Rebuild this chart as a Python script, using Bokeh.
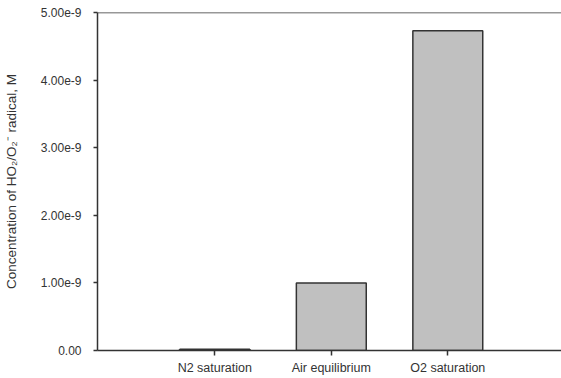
from bokeh.plotting import figure
from bokeh.models import FixedTicker, Range1d, Span, ColumnDataSource
from bokeh.embed import file_html
from bokeh.resources import INLINE

categories = ["N2 saturation", "Air equilibrium", "O2 saturation"]
values = [2.0e-11, 1.00e-9, 4.73e-9]
y_ticks = [0.0, 1e-9, 2e-9, 3e-9, 4e-9, 5e-9]
y_tick_labels = ["0.00", "1.00e-9", "2.00e-9", "3.00e-9", "4.00e-9", "5.00e-9"]

xpos = list(range(len(categories)))
src = ColumnDataSource(dict(x=xpos, top=values, cat=categories))

FONT = "Liberation Sans"
TXT = "#333333"
AX = "#333333"

p = figure(width=561, height=378, output_backend="svg", toolbar_location=None,
           x_range=Range1d(-1.007, 2.976), y_range=Range1d(0, 5e-9),
           min_border_left=95, min_border_right=0, min_border_top=12, min_border_bottom=28)
p.outline_line_color = None
p.grid.visible = False
p.background_fill_color = "white"
p.border_fill_color = "white"

p.vbar(x="x", top="top", bottom=0, width=0.6, source=src,
       fill_color="#c0c0c0", line_color="#333333", line_width=1.5)

p.add_layout(Span(location=5e-9, dimension="width", line_color=AX, line_width=1.5))

xa = p.xaxis[0]
xa.ticker = FixedTicker(ticks=xpos)
xa.major_label_overrides = {i: c for i, c in zip(xpos, categories)}
xa.major_tick_out = 5
xa.major_tick_in = 0
xa.minor_tick_line_color = None
xa.axis_line_color = AX
xa.axis_line_width = 1.5
xa.major_tick_line_color = AX
xa.major_tick_line_width = 1.5
xa.major_label_text_font = FONT
xa.major_label_text_font_size = "12.5px"
xa.major_label_text_color = TXT
xa.major_label_standoff = 5

ya = p.yaxis[0]
ya.ticker = FixedTicker(ticks=y_ticks)
ya.major_label_overrides = {t: l for t, l in zip(y_ticks, y_tick_labels)}
ya.major_tick_out = 4
ya.major_tick_in = 0
ya.minor_tick_line_color = None
ya.axis_line_color = AX
ya.axis_line_width = 1.5
ya.major_tick_line_color = AX
ya.major_tick_line_width = 1.5
ya.major_label_text_font = FONT
ya.major_label_text_font_size = "12px"
ya.major_label_text_color = TXT
ya.major_label_standoff = 12
ya.axis_label = "Concentration of HO\u2082/O\u2082\u207b radical, M"
ya.axis_label_text_font = FONT
ya.axis_label_text_font_size = "13.5px"
ya.axis_label_text_font_style = "normal"
ya.axis_label_text_color = TXT
ya.axis_label_standoff = 19

open("out.html", "w").write(file_html(p, INLINE))
